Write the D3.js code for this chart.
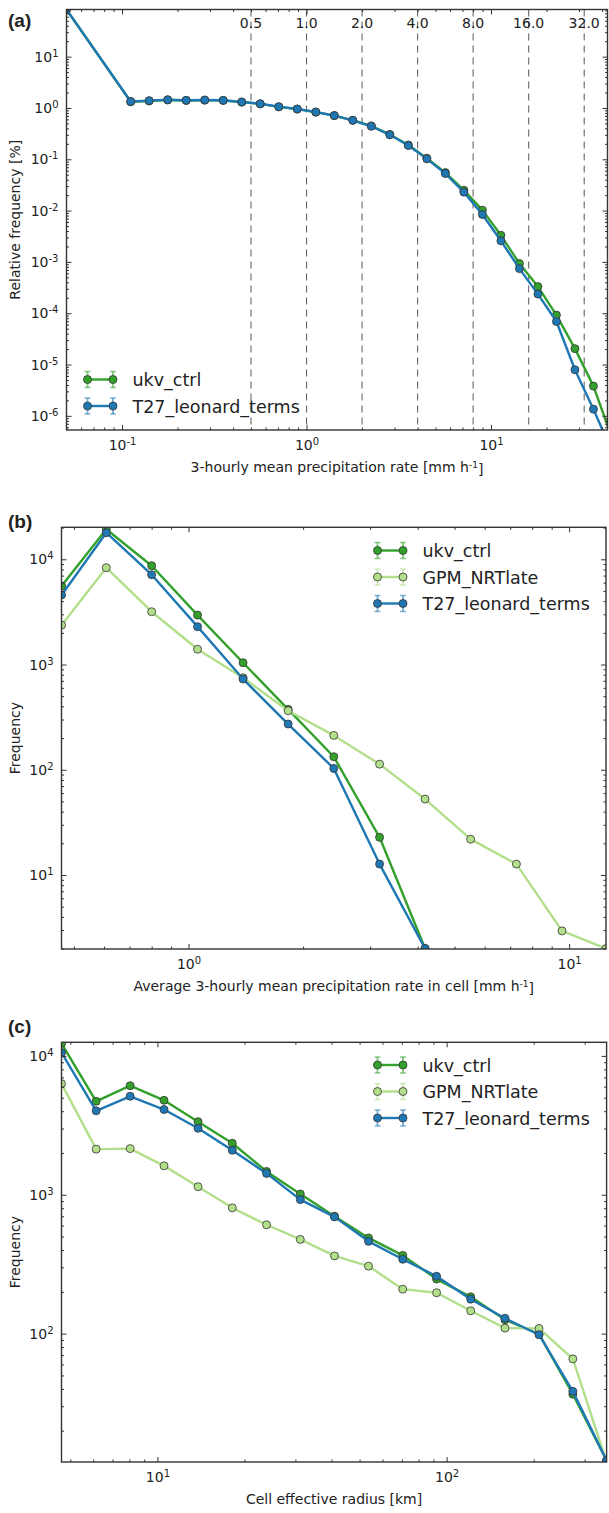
<!DOCTYPE html>
<html>
<head>
<meta charset="utf-8">
<script src="https://cdn.jsdelivr.net/npm/d3@7"></script>
<style>
  body { margin: 0; background: #fff; }
  text { font-family: "DejaVu Sans", sans-serif; fill: #222; }
</style>
</head>
<body>
<div id="chart"></div>
<script>
// ---- data ----
const seriesNames = ["ukv_ctrl", "GPM_NRTlate", "T27_leonard_terms"];

// (a) precipitation-rate bins (bin centres) and relative frequency [%]
const rateBinsA = [0.05, 0.1114, 0.1403, 0.1768, 0.2227, 0.2806, 0.3536, 0.4454, 0.5612, 0.7071, 0.8909,
  1.1225, 1.4142, 1.7818, 2.2449, 2.8284, 3.5636, 4.4898, 5.6569, 7.1272, 8.9797,
  11.314, 14.254, 17.959, 22.627, 28.509, 35.919, 45.255];
const ukvA = [83, 1.32, 1.37, 1.43, 1.40, 1.42, 1.40, 1.30, 1.20, 1.05, 0.95, 0.83, 0.71, 0.575, 0.445,
  0.305, 0.19, 0.105, 0.055, 0.025, 0.0102, 0.0033, 9.3e-4, 3.3e-4, 9.2e-5, 2.04e-5, 3.8e-6, 3.7e-7];
const t27A = [83, 1.34, 1.39, 1.45, 1.41, 1.43, 1.41, 1.31, 1.21, 1.06, 0.955, 0.835, 0.71, 0.574, 0.44,
  0.30, 0.185, 0.102, 0.0527, 0.0229, 0.0084, 0.00258, 7.4e-4, 2.36e-4, 6.9e-5, 7.9e-6, 1.35e-6, 2e-7];
const thresholdsA = [0.5, 1, 2, 4, 8, 16, 32];

// (b) average rate in cell vs frequency
const cellRateB = [0.464, 0.608, 0.800, 1.056, 1.391, 1.827, 2.408, 3.177, 4.183, 5.51, 7.27, 9.58, 12.5];
const ukvB = [5570, 19300, 8690, 2950, 1040, 375, 133, 22.8, 2.0, null, null, null, null];
const gpmB = [2370, 8320, 3175, 1397, 750, 364, 212, 113, 52.7, 21.9, 12.7, 2.94, 2.0];
const t27B = [4580, 17900, 7140, 2290, 728, 272, 103, 12.7, 2.0, null, null, null, null];

// (c) cell effective radius vs frequency
const radiusC = [4.66, 6.14, 8.05, 10.54, 13.82, 18.15, 23.84, 31.19, 40.95, 53.7, 70.5, 92.3,
  121.1, 159.1, 208.7, 273.1, 357.3];
const ukvC = [12300, 4710, 6100, 4790, 3360, 2350, 1473, 1013, 701, 489, 366, 247, 184, 126, 99.3, 36.6, 12.2];
const gpmC = [6310, 2130, 2150, 1615, 1143, 805, 608, 477, 363, 306, 209, 197, 146, 109.6, 109, 65.8, 11.9];
const t27C = [10560, 4020, 5120, 4110, 3010, 2090, 1425, 923, 693, 462, 343, 259, 177, 129, 98.2, 38.4, 12.2];

const GREEN = "#33a02c", LIGHT = "#b2df8a", BLUE = "#1f78b4";

const svg = d3.select("#chart").append("svg")
    .attr("width", 609)
    .attr("height", 1513);

// majors / minors for a log domain
function logTicks(domain) {
  const lo = Math.floor(Math.log10(domain[0])), hi = Math.ceil(Math.log10(domain[1]));
  const major = [], minor = [];
  for (let e = lo; e <= hi; e++) {
    for (let m = 1; m < 10; m++) {
      const v = m * Math.pow(10, e);
      if (v < domain[0] * 0.9999 || v > domain[1] * 1.0001) continue;
      (m === 1 ? major : minor).push(v);
    }
  }
  return {major, minor};
}

function powLabel(sel) {
  sel.each(function(d) {
    const e = Math.round(Math.log10(d));
    const t = d3.select(this).text("10");
    t.append("tspan").attr("dy", "-0.5em").attr("font-size", "10px").text(e < 0 ? "-" + (-e) : e);
  });
}

function drawPanel(p) {
  const x = d3.scaleLog().domain(p.xDomain).range([p.left, p.right]);
  const y = d3.scaleLog().domain(p.yDomain).range([p.bottom, p.top]);
  const g = svg.append("g");
  const clipId = "clip" + p.id;
  svg.append("clipPath").attr("id", clipId)
    .append("rect")
      .attr("x", p.left).attr("y", p.top)
      .attr("width", p.right - p.left).attr("height", p.bottom - p.top);

  // panel tag
  svg.append("text")
    .attr("x", 8).attr("y", p.tagY)
    .style("font-family", "'Liberation Sans', Arial, sans-serif")
    .style("font-weight", "bold").style("font-size", "19px")
    .text(p.tag);

  // dashed threshold lines (panel a)
  if (p.thresholds) {
    g.append("g").selectAll("line")
      .data(p.thresholds)
      .join("line")
        .attr("x1", d => x(d)).attr("x2", d => x(d))
        .attr("y1", p.top).attr("y2", p.bottom)
        .attr("stroke", "#666").attr("stroke-width", 1.1)
        .attr("stroke-dasharray", "7,5");
    g.append("g").selectAll("text")
      .data(p.thresholds)
      .join("text")
        .attr("x", d => x(d)).attr("y", p.top + 18)
        .attr("text-anchor", "middle")
        .style("font-size", "14px")
        .text(d3.format(".1f"));
  }

  const plot = g.append("g").attr("clip-path", `url(#${clipId})`);
  const line = d3.line().x(d => x(d.x)).y(d => y(d.y));
  p.series.forEach(s => {
    const pts = s.x.map((v, i) => ({x: v, y: s.y[i]})).filter(d => d.y != null);
    plot.append("path").datum(pts)
      .attr("fill", "none").attr("stroke", s.color)
      .attr("stroke-width", 2.4).attr("stroke-linejoin", "round")
      .attr("d", line);
    plot.append("g").selectAll("circle")
      .data(pts)
      .join("circle")
        .attr("cx", d => x(d.x)).attr("cy", d => y(d.y))
        .attr("r", 4)
        .attr("fill", s.color)
        .attr("stroke", "#333").attr("stroke-width", 0.8);
  });

  // axes, ticks pointing inward on all four sides
  const xt = logTicks(p.xDomain), yt = logTicks(p.yDomain);
  const axes = g.append("g").attr("color", "#333");
  const mk = (axisFn, scale, vals, size, labels) => {
    const a = axisFn(scale).tickValues(vals).tickSizeInner(-size).tickSizeOuter(0);
    if (!labels) a.tickFormat("");
    return a;
  };
  const bottom = axes.append("g").attr("transform", `translate(0,${p.bottom})`);
  const xLab = bottom.append("g").call(mk(d3.axisBottom, x, xt.major, 5, true).tickPadding(10));
  bottom.append("g").call(mk(d3.axisBottom, x, xt.minor, 2.5, false));
  const top = axes.append("g").attr("transform", `translate(0,${p.top})`);
  top.append("g").call(mk(d3.axisTop, x, xt.major, 5, false));
  top.append("g").call(mk(d3.axisTop, x, xt.minor, 2.5, false));
  const left = axes.append("g").attr("transform", `translate(${p.left},0)`);
  const yLab = left.append("g").call(mk(d3.axisLeft, y, yt.major, 5, true).tickPadding(8));
  left.append("g").call(mk(d3.axisLeft, y, yt.minor, 2.5, false));
  const right = axes.append("g").attr("transform", `translate(${p.right},0)`);
  right.append("g").call(mk(d3.axisRight, y, yt.major, 5, false));
  right.append("g").call(mk(d3.axisRight, y, yt.minor, 2.5, false));
  axes.selectAll(".domain").remove();
  axes.selectAll(".tick line").attr("stroke-width", 1);
  axes.selectAll("text").attr("font-family", null).style("font-size", "14px").attr("fill", "#222");
  xLab.selectAll(".tick text").call(powLabel);
  yLab.selectAll(".tick text").call(powLabel);

  g.append("rect")
    .attr("x", p.left).attr("y", p.top)
    .attr("width", p.right - p.left).attr("height", p.bottom - p.top)
    .attr("fill", "none").attr("stroke", "#333").attr("stroke-width", 1.4);

  // axis titles
  const xl = g.append("text")
    .attr("x", (p.left + p.right) / 2).attr("y", p.bottom + 42)
    .attr("text-anchor", "middle").style("font-size", "14px")
    .text(p.xlabel[0]);
  if (p.xlabel.length > 1) {
    xl.append("tspan").attr("dy", "-0.45em").attr("font-size", "9px").text(p.xlabel[1]);
    xl.append("tspan").attr("dy", "0.45em").text(p.xlabel[2]);
  }
  g.append("text")
    .attr("transform", `translate(20,${(p.top + p.bottom) / 2}) rotate(-90)`)
    .attr("text-anchor", "middle").style("font-size", "14px")
    .text(p.ylabel);

  // legend (no frame), errorbar-style handles
  const lg = g.append("g");
  p.series.forEach((s, i) => {
    const ly = p.legend.y + i * 26.5, x0 = p.legend.x, x1 = p.legend.x + 25.5;
    const item = lg.append("g");
    [x0, x1].forEach(cx => {
      item.append("line").attr("x1", cx).attr("x2", cx).attr("y1", ly - 8).attr("y2", ly + 8)
        .attr("stroke", s.color).attr("stroke-width", 2).attr("opacity", 0.55);
      [ly - 8, ly + 8].forEach(cy => item.append("line")
        .attr("x1", cx - 3).attr("x2", cx + 3).attr("y1", cy).attr("y2", cy)
        .attr("stroke", s.color).attr("stroke-width", 1.5).attr("opacity", 0.55));
    });
    item.append("line").attr("x1", x0).attr("x2", x1).attr("y1", ly).attr("y2", ly)
      .attr("stroke", s.color).attr("stroke-width", 2.4);
    [x0, x1].forEach(cx => item.append("circle").attr("cx", cx).attr("cy", ly).attr("r", 4)
      .attr("fill", s.color).attr("stroke", "#333").attr("stroke-width", 0.8));
    item.append("text")
      .attr("x", p.legend.x + 45).attr("y", ly + 6.5)
      .style("font-size", "17.5px")
      .text(s.name);
  });
}

drawPanel({
  id: "a", tag: "(a)", tagY: 27,
  left: 66.5, right: 607.5, top: 9.5, bottom: 430,
  xDomain: [0.05, 42.8], yDomain: [5.3e-7, 83],
  thresholds: thresholdsA,
  xlabel: ["3-hourly mean precipitation rate [mm h", "-1", "]"],
  ylabel: "Relative frequency [%]",
  series: [
    {name: seriesNames[0], x: rateBinsA, y: ukvA, color: GREEN},
    {name: seriesNames[2], x: rateBinsA, y: t27A, color: BLUE}
  ],
  legend: {x: 87.5, y: 379.5}
});

drawPanel({
  id: "b", tag: "(b)", tagY: 528,
  left: 61.5, right: 606, top: 527.3, bottom: 949,
  xDomain: [0.4637, 12.5], yDomain: [1.98, 20140],
  xlabel: ["Average 3-hourly mean precipitation rate in cell [mm h", "-1", "]"],
  ylabel: "Frequency",
  series: [
    {name: seriesNames[0], x: cellRateB, y: ukvB, color: GREEN},
    {name: seriesNames[1], x: cellRateB, y: gpmB, color: LIGHT},
    {name: seriesNames[2], x: cellRateB, y: t27B, color: BLUE}
  ],
  legend: {x: 377.5, y: 550.5}
});

drawPanel({
  id: "c", tag: "(c)", tagY: 1033,
  left: 61.5, right: 606.6, top: 1042.3, bottom: 1462,
  xDomain: [4.66, 357.3], yDomain: [11.9, 12530],
  xlabel: ["Cell effective radius [km]"],
  ylabel: "Frequency",
  series: [
    {name: seriesNames[0], x: radiusC, y: ukvC, color: GREEN},
    {name: seriesNames[1], x: radiusC, y: gpmC, color: LIGHT},
    {name: seriesNames[2], x: radiusC, y: t27C, color: BLUE}
  ],
  legend: {x: 377.5, y: 1065}
});
</script>
</body>
</html>
